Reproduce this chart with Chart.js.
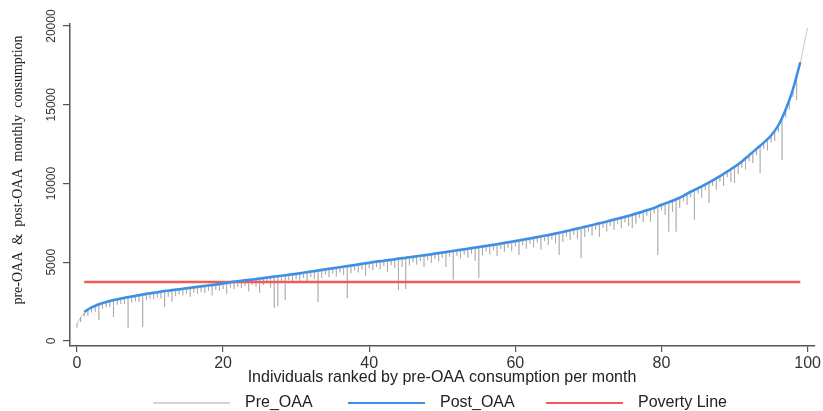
<!DOCTYPE html>
<html>
<head>
<meta charset="utf-8">
<script src="https://cdn.jsdelivr.net/npm/chart.js@4/dist/chart.umd.min.js"></script>
<style>
  body { margin: 0; background: #fff; }
  canvas { display: block; }
</style>
</head>
<body>
<canvas id="myChart" width="823" height="411"></canvas>
<script>
// rank (percentile of individuals) for the pre-OAA series
const preRank = [
  0,0.5,1,1.5,2,2.5,3,3.5,4,4.5, 5,5.5,6,6.5,7,7.5,8,8.5,9,9.5,
  10,10.5,11,11.5,12,12.5,13,13.5,14,14.5, 15,15.5,16,16.5,17,17.5,18,18.5,19,19.5,
  20,20.5,21,21.5,22,22.5,23,23.5,24,24.5, 25,25.5,26,26.5,27,27.5,28,28.5,29,29.5,
  30,30.5,31,31.5,32,32.5,33,33.5,34,34.5, 35,35.5,36,36.5,37,37.5,38,38.5,39,39.5,
  40,40.5,41,41.5,42,42.5,43,43.5,44,44.5, 45,45.5,46,46.5,47,47.5,48,48.5,49,49.5,
  50,50.5,51,51.5,52,52.5,53,53.5,54,54.5, 55,55.5,56,56.5,57,57.5,58,58.5,59,59.5,
  60,60.5,61,61.5,62,62.5,63,63.5,64,64.5, 65,65.5,66,66.5,67,67.5,68,68.5,69,69.5,
  70,70.5,71,71.5,72,72.5,73,73.5,74,74.5, 75,75.5,76,76.5,77,77.5,78,78.5,79,79.5,
  80,80.5,81,81.5,82,82.5,83,83.5,84,84.5, 85,85.5,86,86.5,87,87.5,88,88.5,89,89.5,
  90,90.5,91,91.5,92,92.5,93,93.5,94,94.5, 95,95.5,96,96.5,97,97.5,98,98.5,99,99.5,
  100
];
// upper edge of the pre-OAA trace at each rank
const preTop = [
  1100,1500,1780,1920,2060,2160,2260,2340,2410,2470, 2530,2580,2630,2675,2720,2760,2800,2840,2880,2920,
  2960,2995,3030,3065,3100,3130,3160,3190,3220,3250, 3280,3310,3340,3370,3400,3430,3460,3490,3520,3555,
  3590,3625,3660,3690,3720,3750,3780,3810,3840,3870, 3900,3930,3960,3990,4020,4050,4080,4110,4140,4170,
  4200,4235,4270,4305,4340,4375,4410,4445,4480,4515, 4550,4585,4620,4655,4690,4725,4760,4795,4830,4865,
  4900,4935,4970,5000,5030,5060,5090,5125,5160,5190, 5220,5250,5280,5315,5350,5380,5410,5445,5480,5515,
  5550,5585,5620,5655,5690,5725,5760,5795,5830,5865, 5900,5935,5970,6005,6040,6080,6120,6160,6200,6240,
  6280,6320,6360,6400,6440,6485,6530,6575,6620,6665, 6710,6760,6810,6860,6910,6965,7020,7075,7130,7185,
  7240,7295,7350,7405,7460,7520,7580,7640,7700,7760, 7820,7885,7950,8020,8090,8160,8230,8305,8380,8480,
  8580,8665,8750,8840,8930,9040,9150,9280,9410,9525, 9640,9760,9880,10005,10130,10265,10400,10545,10690,10840,
  10990,11160,11330,11530,11730,11930,12130,12330,12530,12750, 12980,13300,13630,14100,14600,15250,15900,16750,17600,18800,
  19900
];
// lowest value of the pre-OAA trace at each rank (the grey drops)
const preLow = [
  850,1200,1550,1600,1800,1850,1330,2050,2150,2150, 1520,2300,2350,2350,825,2450,2520,2500,890,2600,
  2680,2650,2750,2700,2160,2800,2500,2850,2950,2900, 3000,2800,3060,3000,3120,3050,3180,2900,3240,3200,
  3300,3000,3380,3300,3440,3350,3500,3150,3560,3450, 3050,3550,3680,3400,2100,2200,3800,2600,3860,3750,
  3920,3800,3990,3700,4060,3950,2470,4000,4200,4050, 4270,4100,4340,4200,2730,4300,4480,4350,4550,4150,
  4620,4500,4690,4550,4750,4400,4810,4650,3240,4700, 3300,4800,5000,4850,5070,4700,5130,4950,5200,5050,
  5270,4700,5340,3900,5410,5250,5480,5300,5550,5100, 4000,5450,5690,5500,5760,5400,5840,5650,5920,5700,
  6000,5460,6080,5850,6160,5950,6250,5800,6340,6100, 6430,6200,5460,6300,6630,6400,6740,6500,5270,6600,
  6960,6700,7070,6620,7180,6950,7300,7050,7420,7150, 7540,7300,7170,7450,7810,7550,7950,7570,8100,5460,
  8300,8000,6940,8200,6940,8450,8870,8650,9130,7680, 9360,9100,9600,8760,9850,9600,10120,9850,10400,10100,
  10030,10600,11000,10900,11400,11300,11800,10660,12200,12100, 12600,12700,13250,11480,14200,14700,15500,15290,17600,18800,
  19900
];

const postRank = [
  1,2,3,4,5,6,7,8,9,10, 11,12,13,14,15,16,17,18,19,20,
  21,22,23,24,25,26,27,28,29,30, 31,32,33,34,35,36,37,38,39,40,
  41,42,43,44,45,46,47,48,49,50, 51,52,53,54,55,56,57,58,59,60,
  61,62,63,64,65,66,67,68,69,70, 71,72,73,74,75,76,77,78,79,80,
  81,82,83,84,85,86,87,88,89,90, 91,92,93,94,95,96,97,98,99
];
const postOAA = [
  1850,2130,2330,2480,2600,2700,2790,2870,2950,3030,
  3100,3170,3230,3290,3350,3410,3470,3530,3590,3660,
  3730,3790,3850,3910,3970,4030,4090,4150,4210,4270,
  4340,4410,4480,4550,4620,4690,4760,4830,4900,4970,
  5040,5100,5160,5230,5290,5350,5420,5480,5550,5620,
  5690,5760,5830,5900,5970,6040,6110,6190,6270,6350,
  6430,6510,6600,6690,6780,6880,6980,7090,7200,7310,
  7420,7530,7650,7770,7890,8020,8160,8300,8450,8650,
  8820,9000,9220,9480,9710,9950,10200,10470,10760,11060,
  11400,11800,12200,12600,13050,13700,14700,16000,17700
];

const povertyRank = [1, 99];
const povertyLine = [3750, 3750];

const xTicks = [0, 20, 40, 60, 80, 100];
const yTicks = [0, 5000, 10000, 15000, 20000];

const legendItems = [
  { text: 'Pre_OAA', color: 'rgba(160,160,160,0.9)', width: 1, x: 153 },
  { text: 'Post_OAA', color: '#3a8fea', width: 2, x: 348 },
  { text: 'Poverty Line', color: '#f25a5a', width: 2, x: 546 }
];

function pairs(xs, ys) {
  return xs.map((x, i) => ({ x: x, y: ys[i] }));
}

// the pre trace goes down to its low and back up at every rank,
// which gives the vertical grey hatching of the original
function preTrace() {
  const pts = [];
  preRank.forEach((x, i) => {
    pts.push({ x: x, y: preTop[i] });
    pts.push({ x: x, y: preLow[i] });
    pts.push({ x: x, y: preTop[i] });
  });
  return pts;
}

const extraText = {
  id: 'extraText',
  afterDraw(chart) {
    const ctx = chart.ctx;
    const y = chart.scales.y;
    ctx.save();
    // y tick labels, rotated
    ctx.fillStyle = '#333';
    ctx.font = '12px "Liberation Sans", Arial, sans-serif';
    ctx.textAlign = 'center';
    ctx.textBaseline = 'middle';
    yTicks.forEach(v => {
      ctx.save();
      ctx.translate(52, y.getPixelForValue(v));
      ctx.rotate(-Math.PI / 2);
      ctx.fillText(String(v), 0, 0);
      ctx.restore();
    });
    // y title
    ctx.fillStyle = '#222';
    ctx.font = '14px "Liberation Serif", "Times New Roman", serif';
    ctx.save();
    ctx.translate(18, 170);
    ctx.rotate(-Math.PI / 2);
    ctx.fillText('pre-OAA  &  post-OAA  monthly  consumption', 0, 0);
    ctx.restore();
    // x title
    ctx.font = '16px "Liberation Sans", Arial, sans-serif';
    ctx.fillText('Individuals ranked by pre-OAA consumption per month', 442, 378);
    // legend
    ctx.textAlign = 'left';
    legendItems.forEach(it => {
      ctx.strokeStyle = it.color;
      ctx.lineWidth = it.width;
      ctx.beginPath();
      ctx.moveTo(it.x, 403);
      ctx.lineTo(it.x + 77, 403);
      ctx.stroke();
      ctx.fillStyle = '#222';
      ctx.fillText(it.text, it.x + 92, 403);
    });
    ctx.restore();
  }
};

const ctx = document.getElementById('myChart').getContext('2d');
const myChart = new Chart(ctx, {
  type: 'line',
  data: {
    datasets: [{
      label: 'Post_OAA',
      data: pairs(postRank, postOAA),
      borderColor: '#3a8fea',
      borderWidth: 2.5,
      pointRadius: 0,
      cubicInterpolationMode: 'monotone'
    }, {
      label: 'Poverty Line',
      data: pairs(povertyRank, povertyLine),
      borderColor: '#f25a5a',
      borderWidth: 2.5,
      pointRadius: 0
    }, {
      label: 'Pre_OAA',
      data: preTrace(),
      borderColor: 'rgba(130,130,130,0.45)',
      borderWidth: 1,
      pointRadius: 0,
      tension: 0
    }]
  },
  options: {
    responsive: false,
    animation: false,
    layout: { padding: { top: 24, right: 5, left: 0, bottom: 0 } },
    plugins: {
      legend: { display: false },
      tooltip: { enabled: false }
    },
    scales: {
      x: {
        type: 'linear',
        min: -0.95,
        max: 100.95,
        afterBuildTicks: s => { s.ticks = xTicks.map(v => ({ value: v })); },
        afterFit: s => { s.height = 65; },
        grid: { drawOnChartArea: false, drawTicks: true, tickLength: 6, color: '#555', lineWidth: 1.2 },
        border: { display: true, color: '#555', width: 1.5 },
        ticks: {
          color: '#333',
          padding: 2,
          maxRotation: 0,
          font: { size: 16, family: '"Liberation Sans", Arial, sans-serif' }
        }
      },
      y: {
        type: 'linear',
        min: -320,
        max: 20130,
        afterBuildTicks: s => { s.ticks = yTicks.map(v => ({ value: v })); },
        afterFit: s => { s.width = 70; },
        grid: { drawOnChartArea: false, drawTicks: true, tickLength: 7, color: '#555', lineWidth: 1.2 },
        border: { display: true, color: '#555', width: 1.5 },
        ticks: { display: false }
      }
    }
  },
  plugins: [extraText]
});
</script>
</body>
</html>
